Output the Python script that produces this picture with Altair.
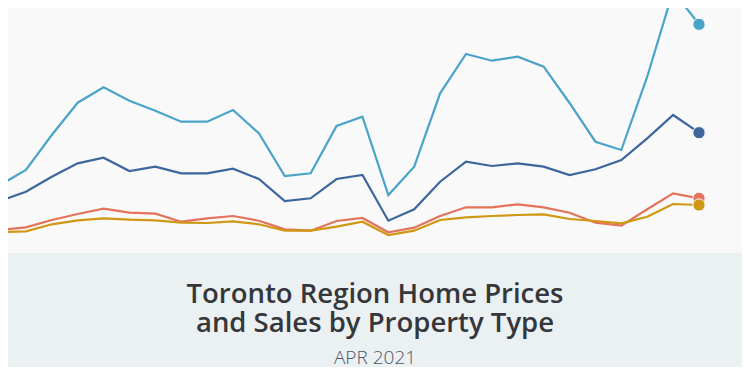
import altair as alt
import pandas as pd

# Monthly index Jan 2019 .. Apr 2021 (28 months)
months = list(range(28))
series_names = ["Detached", "Semi-Detached", "Townhouse", "Condo Apt"]
series_colors = ["#4aa3c9", "#3c669c", "#e3735a", "#cf9712"]

detached = [75, 90, 125, 157.3, 172.7, 159.3, 149.3, 138.3, 138.3, 150, 126.7, 84, 86.7, 134,
            143.3, 65, 93.3, 166.7, 206, 199.3, 203.3, 193.3, 157, 118.3, 110, 183.3, 269, 235.7]
semi = [59, 68.3, 83.3, 96.7, 102.3, 89, 93.3, 86.7, 86.7, 91.3, 81, 59, 61.7, 81,
        85, 39.3, 50.7, 78.3, 98.3, 94, 96.7, 93.3, 85, 90.7, 100, 121.7, 145, 127.3]
town = [30, 32.7, 40, 46, 51.3, 47.3, 46.3, 38.3, 41.7, 44, 39.3, 30.7, 29.3, 39,
        42, 27.7, 32.3, 44, 52.7, 52.7, 55.7, 52.7, 47.3, 37.3, 34.3, 50.7, 66.7, 61.7]
condo = [28, 28.7, 35.7, 39.7, 41.7, 40.3, 39.7, 37.3, 37, 38.7, 35.7, 29.3, 29.3, 33.3,
         38.3, 25, 29.3, 40, 42.7, 44, 45, 45.7, 41, 39, 36.7, 43.3, 56, 55]

title_lines = ["Toronto Region Home Prices", "and Sales by Property Type"]
subtitle = "APR 2021"

rows = []
for name, vals in zip(series_names, [detached, semi, town, condo]):
    for m, v in zip(months, vals):
        rows.append({"month": m, "value": v, "series": name})
df = pd.DataFrame(rows)
last = df[df["month"] == months[-1]]

W, H = 734, 359

xs = alt.X("month:Q", scale=alt.Scale(domain=[0, 27], range=[-8, 691]), axis=None)
ys = alt.Y("value:Q", scale=alt.Scale(domain=[0, 252], range=[252, 0], zero=False, nice=False), axis=None)
col = alt.Color("series:N", scale=alt.Scale(domain=series_names, range=series_colors), legend=None)

lines = alt.Chart(df).mark_line(strokeWidth=2.2, clip=True).encode(
    x=xs, y=ys, color=col, order=alt.Order("month:Q"),
    detail="series:N",
)
dots = alt.Chart(last).mark_circle(size=150, opacity=1, stroke="#f9f9f9", strokeWidth=1).encode(
    x=xs, y=ys, color=col,
)

band = alt.Chart(pd.DataFrame({"a": [0]})).mark_rect(color="#ebf0f3").encode(
    x=alt.value(0), x2=alt.value(W), y=alt.value(245), y2=alt.value(H)
)

tdf = pd.DataFrame({"t": title_lines, "yy": [294.7, 324.3]})
title = alt.Chart(tdf).mark_text(
    font="Open Sans", fontSize=27.5, fontWeight=600, color="#35373b", align="center", baseline="alphabetic"
).encode(x=alt.value(367), y=alt.Y("yy:Q", scale=None), text="t:N")

sub = alt.Chart(pd.DataFrame({"t": [subtitle]})).mark_text(
    font="Open Sans", fontSize=19, fontWeight=300, color="#4b5666", align="center", baseline="alphabetic"
).encode(x=alt.value(367), y=alt.value(356), text="t:N")

chart = alt.layer(band, lines, dots, title, sub).properties(
    width=W, height=H, padding=0, autosize=alt.AutoSizeParams(type="none"),
    background="#f9f9f9",
).configure_view(stroke=None)

chart.save("out.html", embed_options={"renderer": "svg", "actions": False})
